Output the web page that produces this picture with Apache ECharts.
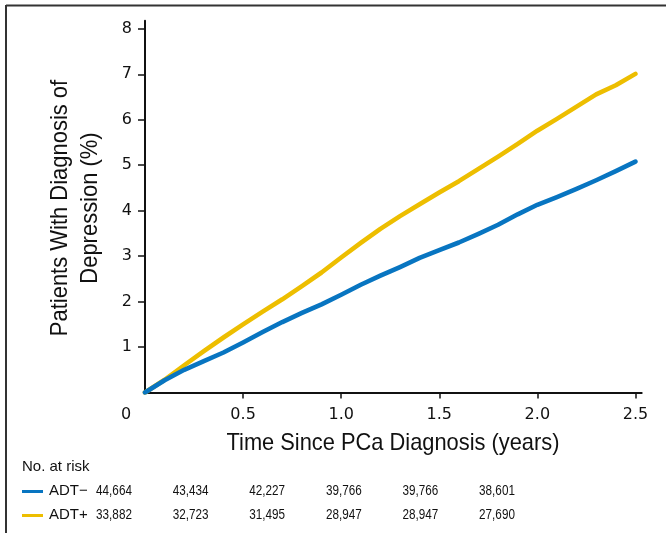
<!DOCTYPE html>
<html>
<head>
<meta charset="utf-8">
<script src="https://cdn.jsdelivr.net/npm/echarts@6/dist/echarts.min.js"></script>
<style>html,body{margin:0;padding:0;background:#fff}#c{width:666px;height:533px}</style>
</head>
<body>
<div id="c"></div>
<script>
// ---- data ----
var timeYears = [0, 0.1, 0.2, 0.3, 0.4, 0.5, 0.6, 0.7, 0.8, 0.9, 1.0, 1.1, 1.2, 1.3, 1.4, 1.5, 1.6, 1.7, 1.8, 1.9, 2.0, 2.1, 2.2, 2.3, 2.4, 2.5];
var adtMinus = [0, 0.27, 0.50, 0.69, 0.88, 1.10, 1.33, 1.55, 1.75, 1.94, 2.15, 2.37, 2.57, 2.76, 2.96, 3.13, 3.30, 3.49, 3.69, 3.92, 4.13, 4.30, 4.48, 4.67, 4.87, 5.08];
var adtPlus  = [0, 0.28, 0.60, 0.91, 1.21, 1.50, 1.78, 2.05, 2.34, 2.64, 2.97, 3.29, 3.60, 3.88, 4.14, 4.40, 4.65, 4.92, 5.19, 5.47, 5.76, 6.02, 6.29, 6.56, 6.76, 7.01];
var xTicks = [0.5, 1.0, 1.5, 2.0, 2.5];
var yTicks = [1, 2, 3, 4, 5, 6, 7, 8];
var seriesNames = ['ADT\u2212', 'ADT+'];
var riskMinus = ['44,664', '43,434', '42,227', '39,766', '39,766', '38,601'];
var riskPlus  = ['33,882', '32,723', '31,495', '28,947', '28,947', '27,690'];

var BLUE = '#0875C1', YELLOW = '#EDBE00';

function pairs(xs, ys) { return xs.map(function (x, i) { return [x, ys[i]]; }); }

var graphics = [
  { type: 'line', shape: { x1: 6, y1: 5.5, x2: 666, y2: 5.5 }, style: { stroke: '#333', lineWidth: 2 } },
  { type: 'line', shape: { x1: 6, y1: 5, x2: 6, y2: 533 }, style: { stroke: '#333', lineWidth: 2 } },
  { type: 'text', x: 126, y: 415, style: { text: '0', font: '16px "DejaVu Sans"', fill: '#111', align: 'center', verticalAlign: 'middle' } },
  { type: 'text', x: 393, y: 443, scaleX: 0.91, style: { text: 'Time Since PCa Diagnosis (years)', font: '24px "Liberation Sans"', fill: '#111', align: 'center', verticalAlign: 'middle' } },
  { type: 'text', x: 75, y: 208, rotation: Math.PI / 2, scaleX: 0.915, style: { text: 'Patients With Diagnosis of\nDepression (%)', font: '24px "Liberation Sans"', lineHeight: 30, fill: '#111', align: 'center', verticalAlign: 'middle' } },
  { type: 'text', x: 22, y: 467, style: { text: 'No. at risk', font: '15px "Liberation Sans"', fill: '#111', align: 'left', verticalAlign: 'middle' } }
];
var rows = [{ name: seriesNames[0], color: BLUE, vals: riskMinus, y: 491 }, { name: seriesNames[1], color: YELLOW, vals: riskPlus, y: 515 }];
rows.forEach(function (r) {
  graphics.push({ type: 'line', shape: { x1: 22, y1: r.y + 0.5, x2: 43, y2: r.y + 0.5 }, style: { stroke: r.color, lineWidth: 3 } });
  graphics.push({ type: 'text', x: 49, y: r.y, style: { text: r.name, font: '15px "Liberation Sans"', fill: '#111', align: 'left', verticalAlign: 'middle' } });
  r.vals.forEach(function (v, i) {
    graphics.push({ type: 'text', x: 114 + 76.6 * i, y: r.y, scaleX: 0.78, style: { text: v, font: '15px "Liberation Sans"', fill: '#111', align: 'center', verticalAlign: 'middle' } });
  });
});

var chart = echarts.init(document.getElementById('c'), null, { renderer: 'canvas' });
chart.setOption({
  animation: false,
  backgroundColor: '#fff',
  grid: { left: 145, top: 20.7, width: 496.7, height: 371.8, containLabel: false },
  xAxis: {
    type: 'value', min: 0, max: 2.532,
    axisLine: { show: true, lineStyle: { color: '#111', width: 2 } },
    axisTick: { show: true, length: 6, customValues: xTicks, lineStyle: { color: '#111', width: 1.5 } },
    axisLabel: { customValues: xTicks, margin: 14, fontSize: 16, fontFamily: 'DejaVu Sans', color: '#111', formatter: function (v) { return v.toFixed(1); } },
    splitLine: { show: false }
  },
  yAxis: {
    type: 'value', min: 0, max: 8.18,
    axisLine: { show: true, lineStyle: { color: '#111', width: 2 } },
    axisTick: { show: true, length: 7, customValues: yTicks, lineStyle: { color: '#111', width: 1.5 } },
    axisLabel: { customValues: yTicks, margin: 13, fontSize: 16, fontFamily: 'DejaVu Sans', color: '#111' },
    splitLine: { show: false }
  },
  series: [
    { name: seriesNames[1], type: 'line', data: pairs(timeYears, adtPlus), showSymbol: false, symbol: 'none', lineStyle: { color: YELLOW, width: 4.6, cap: 'round', join: 'round' } },
    { name: seriesNames[0], type: 'line', data: pairs(timeYears, adtMinus), showSymbol: false, symbol: 'none', lineStyle: { color: BLUE, width: 4.6, cap: 'round', join: 'round' } }
  ],
  graphic: graphics
});
</script>
</body>
</html>
